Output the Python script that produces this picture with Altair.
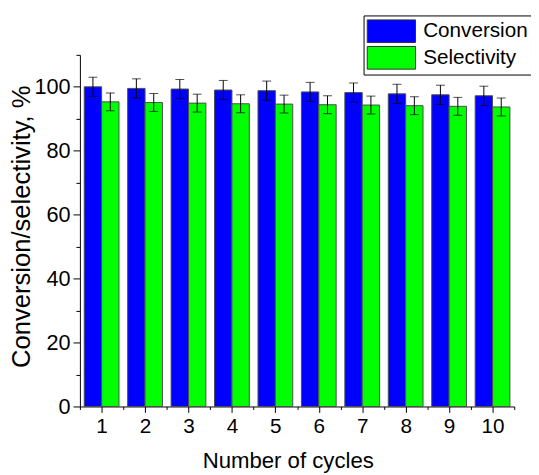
import altair as alt
import pandas as pd

cycles = [1, 2, 3, 4, 5, 6, 7, 8, 9, 10]
conversion = [100.0, 99.5, 99.3, 99.0, 98.8, 98.4, 98.2, 97.8, 97.5, 97.2]
selectivity = [95.3, 95.1, 94.9, 94.7, 94.6, 94.4, 94.3, 94.1, 93.9, 93.7]
conversion_err = [3.0, 3.0, 3.0, 3.0, 3.0, 3.0, 3.0, 3.0, 3.0, 3.0]
selectivity_err = [2.8, 2.8, 2.8, 2.8, 2.8, 2.8, 2.8, 2.8, 2.8, 2.8]
series_names = ["Conversion", "Selectivity"]
x_tick_values = [1, 2, 3, 4, 5, 6, 7, 8, 9, 10]
x_minor_values = [0.5, 1.5, 2.5, 3.5, 4.5, 5.5, 6.5, 7.5, 8.5, 9.5, 10.5]
y_tick_values = [0, 20, 40, 60, 80, 100]
y_minor_values = [10, 30, 50, 70, 90, 110]

rows = []
for c, v, e in zip(cycles, conversion, conversion_err):
    rows.append({"cycle": c, "series": "Conversion", "value": v, "err": e})
for c, v, e in zip(cycles, selectivity, selectivity_err):
    rows.append({"cycle": c, "series": "Selectivity", "value": v, "err": e})
df = pd.DataFrame(rows)

FONT = "Liberation Sans"
xscale = alt.Scale(domain=[0.5, 10.5], nice=False, zero=False)
yscale = alt.Scale(domain=[0, 110], nice=False)

base = alt.Chart(df).transform_calculate(
    x0="datum.series == 'Conversion' ? datum.cycle - 0.4 : datum.cycle",
).transform_calculate(
    x1="datum.x0 + 0.4",
    xc="datum.x0 + 0.2",
    lo="datum.value - datum.err",
    hi="datum.value + datum.err",
)

bars = base.mark_bar(stroke="#4d4d4d", strokeWidth=1).encode(
    x=alt.X("x0:Q", scale=xscale,
            axis=alt.Axis(values=x_tick_values, tickSize=6, labelPadding=20,
                          labelBaseline="alphabetic", labelFontSize=21,
                          title="Number of cycles", titleFontSize=22.5,
                          titleX=211, titleY=62, titleBaseline="alphabetic",
                          titleAlign="center", orient="bottom")),
    x2="x1:Q",
    y=alt.Y("value:Q", scale=yscale,
            axis=alt.Axis(values=y_tick_values, tickSize=7, labelPadding=3,
                          labelFontSize=22,
                          title="Conversion/selectivity, %", titleFontSize=26,
                          titleX=-51, titleY=174, titleBaseline="alphabetic",
                          titleAlign="center", orient="left")),
    y2=alt.datum(0),
    color=alt.Color("series:N",
                    scale=alt.Scale(domain=series_names, range=["#0000FF", "#00FF00"]),
                    legend=alt.Legend(title=None, orient="none", legendX=288, legendY=-40,
                                      symbolType="M-1,-0.94H3V0.94H-1Z", symbolSize=600,
                                      symbolStrokeColor="#333333", symbolStrokeWidth=1,
                                      labelFontSize=21, labelOffset=31.5, labelFont=FONT,
                                      labelColor="black",
                                      rowPadding=-2, padding=3,
                                      strokeColor="black", fillColor="white")),
)

errs = base.mark_errorbar(ticks=True, size=9, thickness=1, color="black").encode(
    x=alt.X("xc:Q", scale=xscale, axis=None),
    y=alt.Y("lo:Q", scale=yscale, axis=None),
    y2="hi:Q",
)

minor = base.mark_point(opacity=0).encode(
    x=alt.X("xc:Q", scale=xscale,
            axis=alt.Axis(values=x_minor_values, tickSize=3, labels=False, domain=False,
                          title=None, orient="bottom")),
    y=alt.Y("value:Q", scale=yscale,
            axis=alt.Axis(values=y_minor_values, tickSize=4, labels=False, domain=False,
                          title=None, orient="left")),
)

chart = alt.layer(bars, errs, minor).resolve_axis(
    x="independent", y="independent"
).properties(
    width=441, height=357,
    autosize=alt.AutoSizeParams(type="none"),
    padding={"left": 73, "top": 44, "right": 17, "bottom": 66},
).configure_axis(
    grid=False, domainColor="black", tickColor="black", labelColor="black",
    titleColor="black", labelFont=FONT, titleFont=FONT, titleFontWeight="normal",
    domainWidth=1, tickWidth=1,
).configure_view(strokeWidth=0)

chart.save("out.html", embed_options={"renderer": "svg", "actions": False})
